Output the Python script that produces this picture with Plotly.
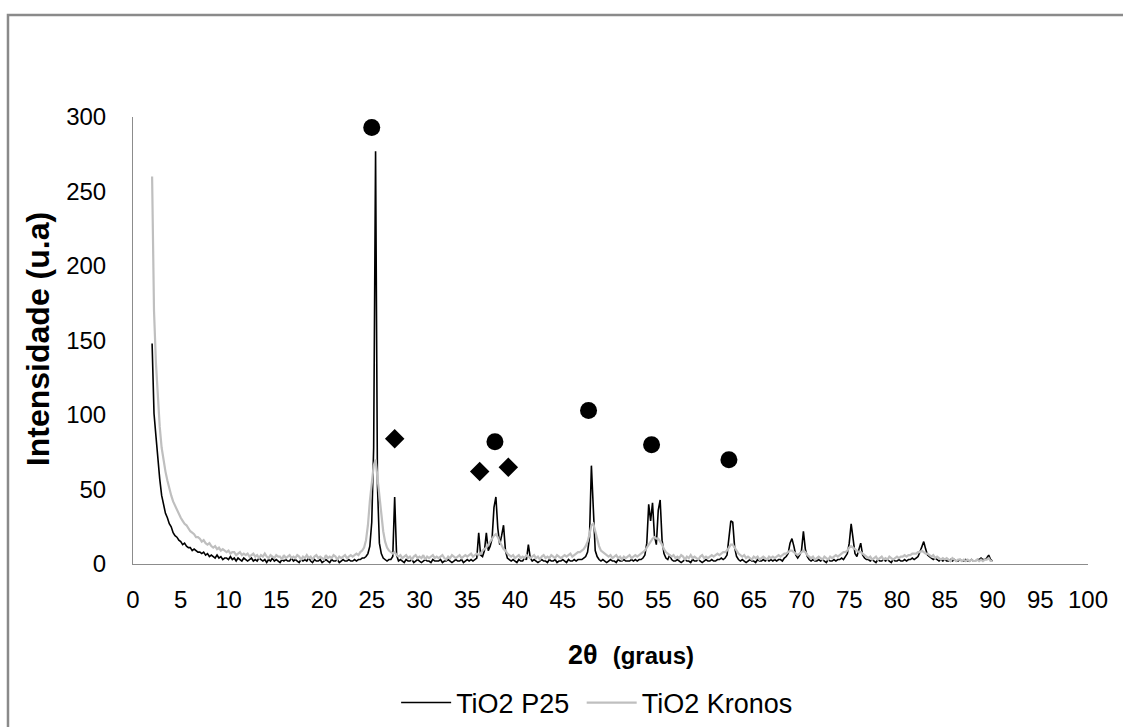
import numpy as np
import plotly.graph_objects as go

# Diffractogram scan: each row starts at ROW_START and is sampled every STEP degrees (2θ)
STEP = 0.2
ROW_START = [2.0, 7.0, 12.0, 17.0, 22.0, 27.0, 32.0, 37.0, 42.0,
             47.0, 52.0, 57.0, 62.0, 67.0, 72.0, 77.0, 82.0, 87.0]

# TiO2 P25 intensities (u.a)
p25_rows = [
    [148, 101, 86, 70, 57, 46, 40, 34, 31, 27, 25, 21, 19, 18, 16, 15, 13, 14, 12, 11, 11, 9, 10, 9, 8],
    [8, 7, 8, 6, 7, 5, 6, 5, 4, 6, 4, 5, 3, 4, 4, 3, 5, 3, 4, 2, 4, 3, 2, 4, 3],
    [2, 3, 4, 2, 3, 2, 4, 3, 2, 3, 1, 3, 2, 4, 2, 3, 2, 1, 3, 2, 3, 2, 2, 4, 2],
    [3, 2, 1, 3, 2, 3, 2, 4, 2, 1, 3, 2, 2, 3, 1, 2, 3, 2, 1, 3, 2, 2, 3, 1, 2],
    [3, 2, 2, 3, 2, 2, 3, 2, 3, 3, 4, 4, 5, 7, 12, 28, 78, 277, 52, 14, 7, 4, 3, 2, 3],
    [3, 5, 45, 6, 2, 3, 2, 1, 3, 2, 2, 3, 1, 2, 3, 2, 1, 2, 3, 2, 2, 1, 3, 2, 2],
    [2, 3, 1, 2, 2, 3, 2, 1, 2, 3, 2, 2, 3, 1, 2, 3, 2, 3, 2, 3, 4, 21, 6, 5, 9],
    [21, 9, 12, 17, 38, 45, 24, 13, 19, 26, 9, 4, 3, 2, 3, 2, 1, 3, 2, 2, 4, 3, 13, 4, 2],
    [3, 2, 1, 2, 3, 2, 2, 1, 3, 2, 2, 3, 1, 2, 2, 3, 2, 1, 3, 2, 2, 3, 2, 3, 3],
    [3, 4, 5, 8, 18, 66, 32, 9, 5, 3, 2, 3, 2, 1, 2, 3, 2, 2, 1, 3, 2, 2, 3, 2, 2],
    [2, 3, 2, 3, 2, 3, 3, 4, 6, 14, 40, 29, 41, 19, 13, 36, 43, 16, 7, 4, 3, 6, 3, 2, 2],
    [3, 2, 1, 2, 3, 2, 2, 1, 3, 2, 2, 3, 2, 1, 2, 3, 2, 2, 3, 2, 2, 3, 3, 4, 3],
    [4, 6, 20, 29, 28, 11, 5, 3, 2, 3, 2, 1, 2, 3, 2, 2, 1, 3, 2, 2, 3, 2, 3, 2, 3],
    [2, 3, 2, 3, 3, 2, 4, 5, 7, 14, 17, 12, 6, 4, 6, 9, 22, 10, 5, 3, 2, 3, 2, 2, 3],
    [2, 3, 2, 1, 3, 2, 2, 3, 2, 3, 3, 4, 3, 5, 7, 14, 27, 17, 7, 5, 9, 14, 6, 4, 3],
    [3, 2, 3, 2, 1, 3, 2, 2, 3, 2, 3, 2, 1, 3, 2, 2, 3, 2, 2, 3, 2, 3, 3, 4, 3],
    [4, 5, 8, 12, 15, 10, 6, 5, 4, 3, 4, 3, 2, 3, 2, 3, 2, 2, 3, 2, 3, 2, 2, 3, 2],
    [2, 3, 2, 2, 3, 2, 2, 3, 3, 4, 3, 3, 4, 6, 3, 2],
]

# TiO2 Kronos intensities (u.a)
kronos_rows = [
    [260, 170, 135, 112, 92, 78, 69, 62, 56, 50, 46, 42, 39, 36, 34, 31, 29, 27, 26, 24, 22, 21, 20, 18, 18],
    [17, 15, 16, 14, 13, 14, 12, 11, 12, 10, 11, 9, 10, 9, 8, 9, 7, 8, 8, 6, 7, 8, 6, 7, 6],
    [7, 5, 6, 7, 5, 6, 4, 6, 5, 7, 5, 4, 6, 5, 4, 6, 5, 5, 3, 6, 4, 5, 6, 4, 5],
    [4, 6, 5, 3, 5, 4, 6, 4, 5, 3, 5, 6, 4, 5, 4, 3, 6, 4, 5, 4, 6, 5, 3, 5, 4],
    [5, 6, 4, 5, 6, 5, 6, 7, 6, 8, 9, 11, 16, 26, 42, 55, 66, 70, 58, 42, 30, 22, 15, 11, 9],
    [8, 7, 8, 6, 5, 6, 4, 5, 6, 4, 5, 3, 5, 6, 4, 5, 4, 6, 3, 5, 4, 5, 6, 4, 5],
    [4, 5, 6, 4, 3, 5, 4, 6, 5, 4, 5, 6, 4, 5, 6, 5, 6, 7, 5, 6, 7, 6, 7, 9, 10],
    [11, 13, 15, 17, 19, 20, 18, 15, 12, 10, 9, 7, 6, 5, 6, 4, 5, 6, 4, 5, 4, 6, 5, 4, 5],
    [6, 4, 5, 3, 5, 6, 4, 5, 4, 6, 5, 4, 6, 5, 4, 5, 6, 5, 6, 7, 5, 6, 7, 8, 8],
    [9, 10, 12, 15, 20, 26, 27, 22, 16, 12, 9, 8, 7, 6, 5, 6, 4, 5, 6, 4, 5, 3, 5, 4, 5],
    [6, 4, 5, 6, 5, 6, 7, 8, 9, 11, 13, 15, 17, 18, 17, 17, 15, 13, 10, 8, 7, 6, 5, 6, 4],
    [5, 4, 6, 5, 3, 5, 4, 6, 4, 5, 4, 3, 5, 6, 4, 5, 4, 5, 6, 5, 6, 7, 6, 7, 8],
    [8, 9, 11, 13, 13, 11, 9, 7, 6, 5, 6, 4, 5, 4, 3, 5, 4, 5, 3, 4, 5, 4, 3, 5, 4],
    [5, 4, 5, 6, 5, 6, 7, 7, 8, 9, 9, 8, 7, 6, 7, 8, 9, 8, 6, 5, 4, 5, 3, 4, 5],
    [4, 3, 5, 4, 3, 5, 4, 5, 6, 5, 6, 7, 8, 8, 9, 11, 12, 11, 10, 9, 8, 8, 7, 6, 5],
    [4, 5, 3, 4, 5, 3, 4, 5, 3, 4, 3, 5, 4, 3, 4, 5, 4, 5, 5, 6, 5, 6, 6, 7, 7],
    [7, 8, 8, 9, 8, 7, 7, 6, 5, 6, 4, 5, 4, 3, 4, 3, 4, 3, 2, 4, 3, 2, 3, 3, 2],
    [3, 2, 3, 2, 3, 2, 2, 3, 2, 3, 2, 3, 3, 4, 2, 2],
]

# Phase markers: anatase (●) and rutile (◆) reflections
anatase_x = [25.0, 37.9, 47.7, 54.3, 62.4]
anatase_y = [293, 82, 103, 80, 70]
rutile_x = [27.4, 36.3, 39.3]
rutile_y = [84, 62, 65]

x_ticks = list(range(0, 101, 5))
y_ticks = list(range(0, 301, 50))


def unroll(starts, rows):
    xs, ys = [], []
    for s, row in zip(starts, rows):
        for i, v in enumerate(row):
            xs.append(round(s + STEP * i, 1))
            ys.append(v)
    return xs, ys


x_p25, y_p25 = unroll(ROW_START, p25_rows)
x_kr, y_kr = unroll(ROW_START, kronos_rows)

FONT = "Liberation Sans, Arial, sans-serif"

fig = go.Figure()
fig.add_trace(go.Scatter(x=x_p25, y=y_p25, mode="lines", name="TiO2 P25&nbsp;",
                         line=dict(color="#000000", width=1.6)))
fig.add_trace(go.Scatter(x=x_kr, y=y_kr, mode="lines", name="TiO2 Kronos",
                         line=dict(color="#bfbfbf", width=2.2)))
fig.add_trace(go.Scatter(x=anatase_x, y=anatase_y, mode="markers", showlegend=False,
                         marker=dict(symbol="circle", size=17, color="#000000")))
fig.add_trace(go.Scatter(x=rutile_x, y=rutile_y, mode="markers", showlegend=False,
                         marker=dict(symbol="diamond", size=15, color="#000000")))

fig.update_layout(
    width=1123, height=727,
    margin=dict(l=133, r=35, t=117, b=163, autoexpand=False),
    paper_bgcolor="white", plot_bgcolor="white",
    font=dict(family=FONT, color="#000000"),
    showlegend=True,
    legend=dict(orientation="h", x=0.486, y=-0.311, xanchor="center", yanchor="middle",
                itemwidth=50, font=dict(size=27, family=FONT), bgcolor="rgba(0,0,0,0)"),
    xaxis=dict(range=[0, 100], tickvals=x_ticks, showgrid=False, zeroline=False,
               showline=True, linecolor="#8c8c8c", linewidth=1, ticks="",
               tickfont=dict(size=24, family=FONT), ticklabelstandoff=14),
    yaxis=dict(range=[0, 300], tickvals=y_ticks, showgrid=False, zeroline=False,
               showline=True, linecolor="#8c8c8c", linewidth=1, ticks="",
               tickfont=dict(size=24, family=FONT), ticklabelstandoff=21),
    annotations=[
        dict(text="<b>Intensidade (u.a)</b>", xref="paper", yref="paper", x=-0.0995, y=0.503,
             xanchor="center", yanchor="middle", textangle=-90, showarrow=False,
             font=dict(size=32, family=FONT, color="#000000")),
        dict(text="<b>2θ</b>&nbsp;&nbsp;<b><span style='font-size:24px'>(graus)</span></b>",
             xref="paper", yref="paper", x=0.5215, y=-0.2036,
             xanchor="center", yanchor="middle", showarrow=False,
             font=dict(size=27, family=FONT, color="#000000")),
    ],
    shapes=[
        dict(type="rect", xref="paper", yref="paper", x0=-0.1309, x1=1.05,
             y0=-0.40, y1=1.2282, line=dict(color="#8a8a8a", width=2.5),
             fillcolor="rgba(0,0,0,0)", layer="below"),
    ],
)

fig.write_html("out.html")
